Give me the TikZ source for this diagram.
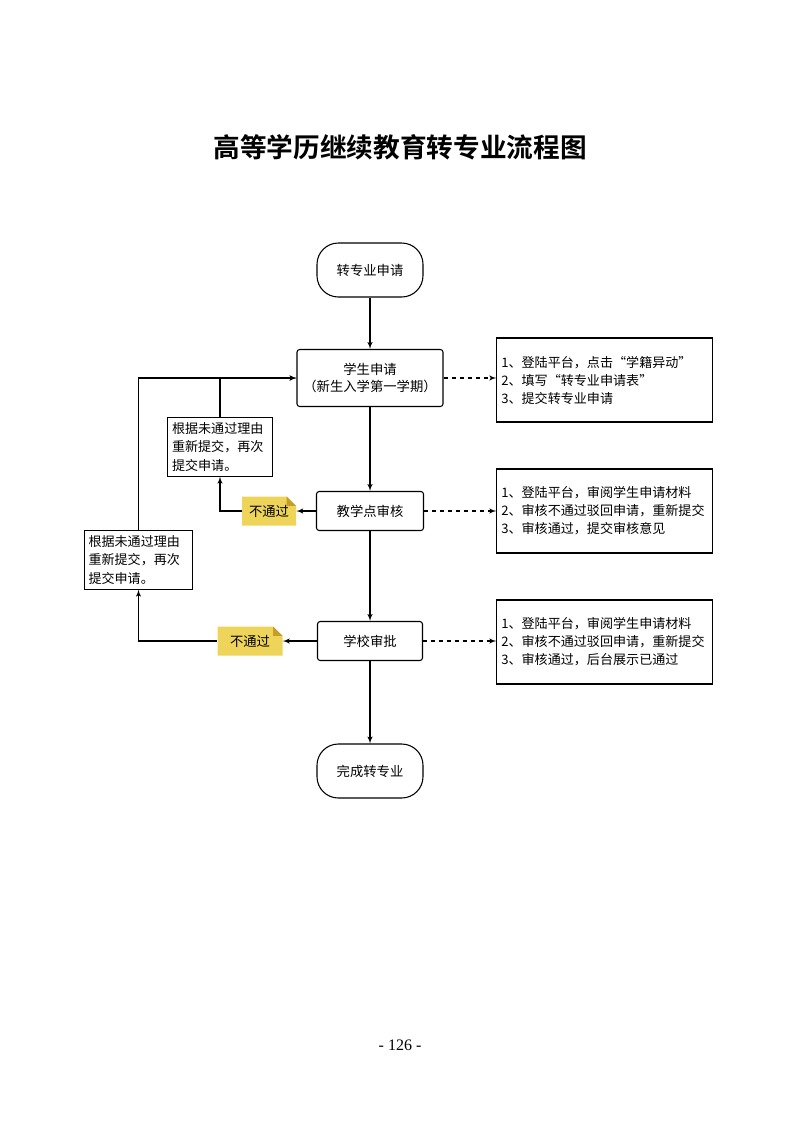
\documentclass[tikz,border=0pt]{standalone}
\usepackage{fontspec}
\setmainfont{Noto Sans CJK SC}[BoldFont={* Bold}]
\newfontfamily\pagefont{Liberation Serif}
\usepackage{xcolor}
\usepackage{tikz}
\usetikzlibrary{shapes, arrows, positioning, calc}
\definecolor{tagyellow}{RGB}{238,212,88}
\definecolor{tagfold}{RGB}{196,158,40}
\tikzstyle{terminal} = [rectangle, draw, thick, rounded corners=16pt, minimum width=79.5pt, minimum height=40.5pt, font=\fontsize{10}{12}\selectfont]
\tikzstyle{process} = [rectangle, draw, thick, rounded corners=2pt, text centered, minimum height=29.25pt, font=\fontsize{10}{12.5}\selectfont]
\tikzstyle{note} = [rectangle, draw, thick, text width=155pt, align=left, minimum height=63pt, font=\fontsize{9.8}{13.5}\selectfont]
\tikzstyle{redo} = [rectangle, draw, thick, text width=72pt, align=left, font=\fontsize{9.8}{14}\selectfont]
\tikzstyle{tag} = [rectangle, minimum height=21.75pt, font=\fontsize{10}{12}\selectfont, path picture={
    \fill[tagyellow] (path picture bounding box.south west) -- (path picture bounding box.north west)
      -- ([xshift=-7pt]path picture bounding box.north east) -- ([yshift=-7pt]path picture bounding box.north east)
      -- (path picture bounding box.south east) -- cycle;
    \fill[tagfold] ([xshift=-7pt]path picture bounding box.north east) -- ([xshift=-7pt,yshift=-7pt]path picture bounding box.north east)
      -- ([yshift=-7pt]path picture bounding box.north east) -- cycle;}]
\tikzstyle{arrow} = [draw, -latex', thick]
\tikzstyle{dasharrow} = [draw, -latex', thick, dashed]
\begin{document}
\begin{tikzpicture}[x=0.75pt, y=-0.75pt, node distance=97.5pt]
    \useasboundingbox (0,0) rectangle (799,1129);
    \node (title) at (400,147) {\fontsize{20}{24}\selectfont\bfseries 高等学历继续教育转专业流程图};

    % Main column
    \node (start) [terminal] at (370,270) {转专业申请};
    \node (apply) [process, minimum width=109.5pt, minimum height=42.75pt, align=center, below of=start, node distance=81pt] {学生申请\\（新生入学第一学期）};
    \node (check) [process, minimum width=80.25pt, below of=apply, node distance=99.75pt] {教学点审核};
    \node (approve) [process, minimum width=78.75pt, below of=check] {学校审批};
    \node (finish) [terminal, below of=approve] {完成转专业};

    % Notes on the right
    \node (note1) [note, right of=apply, node distance=176pt, yshift=-1.5pt] {1、登陆平台，点击“学籍异动”\\2、填写“转专业申请表”\\3、提交转专业申请};
    \node (note2) [note, right of=check, node distance=176pt] {1、登陆平台，审阅学生申请材料\\2、审核不通过驳回申请，重新提交\\3、审核通过，提交审核意见};
    \node (note3) [note, right of=approve, node distance=176pt, yshift=-0.75pt] {1、登陆平台，审阅学生申请材料\\2、审核不通过驳回申请，重新提交\\3、审核通过，后台展示已通过};

    % Rejections
    \node (tag1) [tag, minimum width=40.5pt] at (269,511) {不通过};
    \node (tag2) [tag, minimum width=48.75pt] at (250,641) {不通过};
    \node (redo1) [redo] at (220,447) {根据未通过理由\\重新提交，再次\\提交申请。};
    \node (redo2) [redo, text width=75pt] at (138.5,560) {根据未通过理由\\重新提交，再次\\提交申请。};

    \draw [arrow] (start) -- (apply);
    \draw [arrow] (apply) -- (check);
    \draw [arrow] (check) -- (approve);
    \draw [arrow] (approve) -- (finish);

    \draw [dasharrow] (apply.east) -- (apply.east -| note1.west);
    \draw [dasharrow] (check) -- (note2);
    \draw [dasharrow] (approve.east) -- (approve.east -| note3.west);

    \draw [arrow] (check) -- (tag1);
    \draw [arrow] (tag1.west) -| (redo1.south);
    \draw [arrow] (redo1.north) |- (apply.west);
    \draw [arrow] (approve) -- (tag2);
    \draw [arrow] (tag2.west) -| (redo2.south);
    \draw [arrow] (redo2.north) |- (apply.west);

    \node (page) at (400,1045) {\pagefont\fontsize{12}{14}\selectfont - 126 -};
\end{tikzpicture}
\end{document}
